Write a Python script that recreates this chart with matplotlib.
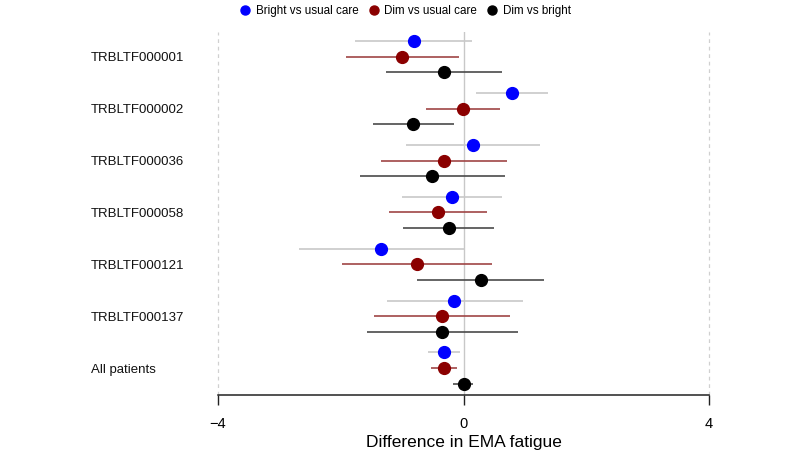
import matplotlib
matplotlib.use("Agg")
import matplotlib.pyplot as plt
import matplotlib.transforms as mtransforms
from matplotlib.lines import Line2D

plt.rcParams["font.family"] = ["Liberation Sans", "DejaVu Sans"]

# Data
patients = [
    "TRBLTF000001",
    "TRBLTF000002",
    "TRBLTF000036",
    "TRBLTF000058",
    "TRBLTF000121",
    "TRBLTF000137",
    "All patients",
]
series_names = ["Bright vs usual care", "Dim vs usual care", "Dim vs bright"]

bright_usual_est = [-0.81, 0.79, 0.15, -0.19, -1.34, -0.15, -0.32]
bright_usual_lo = [-1.76, 0.20, -0.93, -1.01, -2.68, -1.25, -0.58]
bright_usual_hi = [0.14, 1.38, 1.25, 0.63, 0.00, 0.97, -0.06]

dim_usual_est = [-1.00, -0.01, -0.32, -0.41, -0.76, -0.35, -0.32]
dim_usual_lo = [-1.92, -0.61, -1.35, -1.21, -1.98, -1.46, -0.53]
dim_usual_hi = [-0.08, 0.59, 0.71, 0.39, 0.46, 0.75, -0.10]

dim_bright_est = [-0.31, -0.83, -0.52, -0.24, 0.28, -0.35, 0.00]
dim_bright_lo = [-1.27, -1.48, -1.69, -0.98, -0.76, -1.58, -0.17]
dim_bright_hi = [0.63, -0.16, 0.67, 0.49, 1.31, 0.88, 0.16]

x_ticks = [-4, 0, 4]

estimates = [bright_usual_est, dim_usual_est, dim_bright_est]
lows = [bright_usual_lo, dim_usual_lo, dim_bright_lo]
highs = [bright_usual_hi, dim_usual_hi, dim_bright_hi]
point_colors = ["#0000ff", "#8b0000", "#000000"]
line_colors = ["#c8c8c8", "#a04545", "#4a4a4a"]
offsets = [0.3, 0.0, -0.3]

fig = plt.figure(figsize=(8, 4.55), dpi=100)
ax = fig.add_axes([218 / 800, 1 - 395 / 455, (709 - 218) / 800, (395 - 32) / 455])

n = len(patients)
centers = [n - 1 - i for i in range(n)]

# reference lines
for xv in [-4, 4]:
    ax.axvline(xv, color="#d0d0d0", lw=0.9, ls=(0, (3, 3)), zorder=0, clip_on=False)
ax.axvline(0, color="#c8c8c8", lw=1.0, zorder=0)

for k in range(3):
    ys = [c + offsets[k] for c in centers]
    ax.hlines(ys, lows[k], highs[k], color=line_colors[k], lw=1.2, zorder=1)
    ax.plot(estimates[k], ys, "o", color=point_colors[k], ms=8.5, zorder=2)

ax.set_xlim(-4, 4)
ax.set_ylim(-0.52, n - 1 + 0.48)
ax.set_xticks(x_ticks)
ax.set_xticklabels(["\u22124", "0", "4"], fontsize=10.5)
ax.tick_params(axis="x", length=7.5, width=1, pad=8, color="#222222")
ax.set_yticks([])
for side in ["left", "right", "top"]:
    ax.spines[side].set_visible(False)
ax.spines["bottom"].set_color("#222222")
ax.spines["bottom"].set_linewidth(1.1)
ax.set_xlabel("Difference in EMA fatigue", fontsize=12.5, labelpad=3.5)

trans = mtransforms.blended_transform_factory(fig.transFigure, ax.transData)
for c, name in zip(centers, patients):
    ax.text(91 / 800, c - 0.03, name, transform=trans, ha="left", va="center",
            fontsize=9.5, color="#111111")

handles = [
    Line2D([], [], marker="o", ls="none", color=point_colors[k], ms=6.5)
    for k in range(3)
]
fig.legend(handles, series_names, loc="upper center", bbox_to_anchor=(0.507, 1.012),
           ncol=3, frameon=False, fontsize=8.4, handlelength=0.8,
           handletextpad=0.5, columnspacing=0.9)

fig.savefig("out.png", dpi=100)
